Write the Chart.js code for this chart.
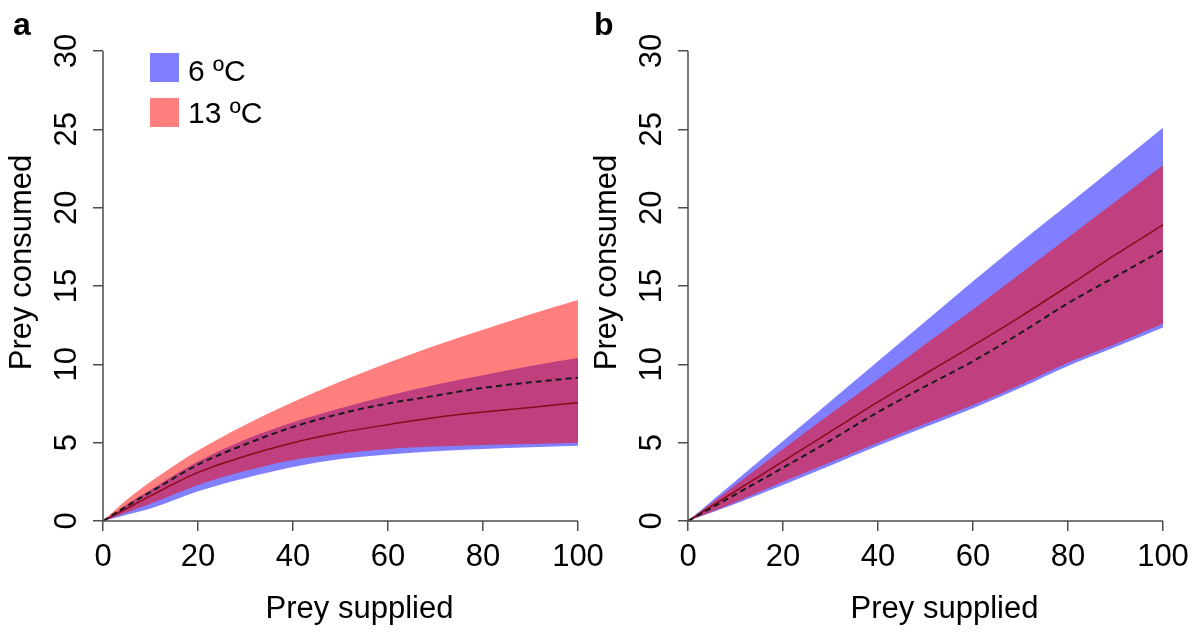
<!DOCTYPE html>
<html>
<head>
<meta charset="utf-8">
<script src="https://cdn.jsdelivr.net/npm/chart.js@4.4.1/dist/chart.umd.min.js"></script>
<style>
  html, body { margin: 0; padding: 0; background: #fff; overflow: hidden; }
  #wrap { position: relative; width: 1201px; height: 632px; font-family: "Liberation Sans", Arial, sans-serif; color: #000; }
  canvas { position: absolute; top: 0; }
  #chartA { left: 0; }
  #chartB { left: 585px; }
  .panel { position: absolute; font-size: 32px; font-weight: bold; line-height: 32px; }
  .key { position: absolute; left: 150px; width: 29px; height: 29px; }
  .keyText { position: absolute; left: 188px; font-size: 30px; line-height: 30px; white-space: nowrap; }
</style>
</head>
<body>
<div id="wrap">
  <canvas id="chartA" width="640" height="632"></canvas>
  <canvas id="chartB" width="640" height="632"></canvas>
  <div class="panel" style="left:13px;top:8px">a</div>
  <div class="panel" style="left:594px;top:8px">b</div>
  <div class="key" style="top:53px;background:rgba(0,0,255,0.5)"></div>
  <div class="keyText" style="top:56px">6 ºC</div>
  <div class="key" style="top:98px;background:rgba(255,0,0,0.5)"></div>
  <div class="keyText" style="top:98px">13 ºC</div>
</div>
<script>
// axis ticks (shared by both panels)
const xTicks = [0, 20, 40, 60, 80, 100];
const yTicks = [0, 5, 10, 15, 20, 25, 30];

// panel a
const suppliedA = [0, 5, 10, 20, 30, 40, 50, 60, 70, 80, 90, 100];
const hi13A  = [0, 1.35, 2.5, 4.5, 6.15, 7.6, 8.9, 10.1, 11.2, 12.2, 13.2, 14.1];
const lo13A  = [0, 0.55, 1.1, 2.3, 3.2, 3.9, 4.3, 4.6, 4.75, 4.85, 4.92, 5.0];
const hi6A   = [0, 1.05, 2.0, 3.8, 5.2, 6.3, 7.2, 8.0, 8.7, 9.3, 9.9, 10.4];
const lo6A   = [0, 0.4, 0.8, 1.9, 2.75, 3.45, 3.95, 4.25, 4.45, 4.6, 4.7, 4.8];
const med6A  = [0, 0.95, 1.85, 3.6, 4.9, 6.0, 6.85, 7.5, 8.0, 8.5, 8.85, 9.15];
const med13A = [0, 0.8, 1.6, 3.1, 4.15, 5.0, 5.65, 6.15, 6.6, 6.95, 7.25, 7.55];

// panel b
const suppliedB = [0, 10, 20, 30, 40, 50, 60, 70, 80, 90, 100];
const hi6B   = [0, 2.55, 5.1, 7.65, 10.2, 12.75, 15.3, 17.8, 20.2, 22.65, 25.1];
const hi13B  = [0, 2.3, 4.6, 6.85, 9.05, 11.3, 13.5, 15.8, 18.1, 20.4, 22.7];
const med13B = [0, 1.9, 3.8, 5.7, 7.6, 9.4, 11.2, 13.05, 15.0, 17.0, 18.9];
const med6B  = [0, 1.7, 3.4, 5.15, 6.95, 8.6, 10.2, 12.0, 13.9, 15.6, 17.3];
const lo13B  = [0, 1.2, 2.5, 3.75, 5.0, 6.2, 7.4, 8.7, 10.1, 11.3, 12.6];
const lo6B   = [0, 1.1, 2.3, 3.55, 4.8, 6.0, 7.2, 8.5, 9.9, 11.1, 12.35];

const axisColor = '#4d4d4d';
const font = { family: '"Liberation Sans", Arial, sans-serif', size: 31 };
const noLine = 'rgba(0,0,0,0)';

function pts(xs, ys) {
  return xs.map((x, i) => ({ x: x, y: ys[i] }));
}

// R-style axis lines that stop at the first and last tick
const axisLines = {
  id: 'axisLines',
  afterDraw(chart) {
    const { ctx, scales: { x, y } } = chart;
    const x0 = x.getPixelForValue(xTicks[0]);
    const x1 = x.getPixelForValue(xTicks[xTicks.length - 1]);
    const y0 = y.getPixelForValue(yTicks[0]);
    const y1 = y.getPixelForValue(yTicks[yTicks.length - 1]);
    ctx.save();
    ctx.strokeStyle = axisColor;
    ctx.lineWidth = 1.5;
    ctx.beginPath();
    ctx.moveTo(x0, y0); ctx.lineTo(x1, y0);
    ctx.moveTo(x0, y0); ctx.lineTo(x0, y1);
    ctx.stroke();
    ctx.restore();
  }
};

function makeChart(id, xs, hi6, lo6, hi13, lo13, med6, med13) {
  const base = { pointRadius: 0, cubicInterpolationMode: 'monotone' };
  return new Chart(document.getElementById(id), {
    type: 'line',
    data: {
      datasets: [
        { ...base, label: '6 ºC', data: pts(xs, med6), borderColor: '#1a1a1a', borderWidth: 2, borderDash: [6, 4], fill: false, order: 0 },
        { ...base, label: '13 ºC', data: pts(xs, med13), borderColor: '#8b0a1a', borderWidth: 1.5, fill: false, order: 0 },
        { ...base, label: '13 ºC upper', data: pts(xs, hi13), borderColor: noLine, borderWidth: 0, backgroundColor: 'rgba(255,0,0,0.5)', fill: '+1', order: 1 },
        { ...base, label: '13 ºC lower', data: pts(xs, lo13), borderColor: noLine, borderWidth: 0, fill: false, order: 1 },
        { ...base, label: '6 ºC upper', data: pts(xs, hi6), borderColor: noLine, borderWidth: 0, backgroundColor: 'rgba(0,0,255,0.5)', fill: '+1', order: 2 },
        { ...base, label: '6 ºC lower', data: pts(xs, lo6), borderColor: noLine, borderWidth: 0, fill: false, order: 2 }
      ]
    },
    options: {
      responsive: false,
      animation: false,
      layout: { padding: { left: 0, top: 4, right: 24, bottom: 0 } },
      plugins: { legend: { display: false }, tooltip: { enabled: false } },
      scales: {
        x: {
          type: 'linear', min: 0, max: 108,
          afterBuildTicks: s => { s.ticks = xTicks.map(v => ({ value: v })); },
          afterFit: s => { s.height = 111; s.paddingLeft = 0; s.paddingRight = 0; },
          border: { display: false },
          grid: { drawOnChartArea: false, drawTicks: true, tickLength: 10, color: axisColor, lineWidth: 1.5 },
          ticks: { font: font, color: '#000', padding: 8, maxRotation: 0, autoSkip: false },
          title: { display: true, text: 'Prey supplied', font: font, color: '#000', padding: { top: 0, bottom: 4 } }
        },
        y: {
          type: 'linear', min: 0, max: 33,
          afterBuildTicks: s => { s.ticks = yTicks.map(v => ({ value: v })); },
          afterFit: s => { s.width = 103; s.paddingTop = 0; s.paddingBottom = 0; },
          border: { display: false },
          grid: { drawOnChartArea: false, drawTicks: true, tickLength: 10, color: axisColor, lineWidth: 1.5 },
          ticks: { font: font, color: '#000', padding: 8.5, minRotation: 90, maxRotation: 90, crossAlign: 'center', autoSkip: false },
          title: { display: true, text: 'Prey consumed', font: font, color: '#000', padding: { top: 3.8, bottom: 0 } }
        }
      }
    },
    plugins: [axisLines]
  });
}

makeChart('chartA', suppliedA, hi6A, lo6A, hi13A, lo13A, med6A, med13A);
makeChart('chartB', suppliedB, hi6B, lo6B, hi13B, lo13B, med6B, med13B);
</script>
</body>
</html>
